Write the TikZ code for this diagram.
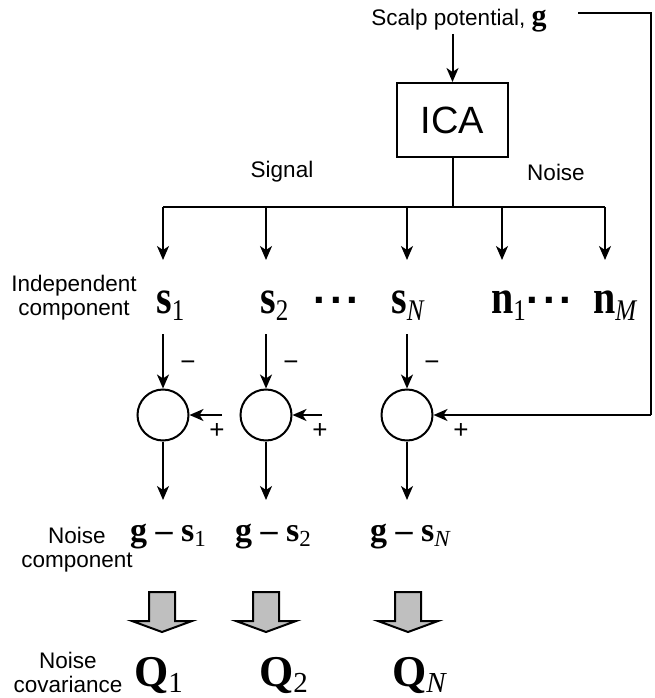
\documentclass[tikz,border=0pt]{standalone}
\usepackage{fontspec}
\usepackage{graphicx}
\setmainfont{Liberation Sans}
\newfontfamily\tms{Liberation Serif}
\usetikzlibrary{arrows.meta}
% bold vector with subscript, three sizes
\newcommand\vA[2]{\scalebox{1}[1.2]{{\tms\fontsize{40}{40}\selectfont\bfseries #1}{\tms\fontsize{25}{25}\selectfont\raisebox{-6pt}{#2}}}}
\newcommand\vB[2]{{\tms\fontsize{34}{34}\selectfont\bfseries #1}{\tms\fontsize{23}{23}\selectfont\raisebox{-5pt}{#2}}}
\newcommand\vC[2]{{\tms\fontsize{44}{44}\selectfont\bfseries #1}{\tms\fontsize{29}{29}\selectfont\raisebox{-6pt}{#2}}}
\newcommand\dotsrow{{\fontsize{42}{42}\selectfont\bfseries .\kern5pt.\kern5pt.}}
\begin{document}
\begin{tikzpicture}[x=1pt,y=-1pt,
  line/.style={line width=2pt},
  arr/.style={line width=2pt,-{Stealth[length=14pt,width=12pt,inset=4pt]}},
  lbl/.style={font=\fontsize{22.5}{24}\selectfont, inner sep=0pt, align=center},
  sgn/.style={font=\fontsize{26}{26}\selectfont, inner sep=0pt},
  mth/.style={inner sep=0pt, anchor=base west},
  sumc/.style={circle, draw, line width=2pt, minimum size=51pt, inner sep=0pt},
  box/.style={draw, line width=2pt, minimum width=111pt, minimum height=74pt, font=\fontsize{38}{38}\selectfont},
  fat/.style={draw, line width=2pt, fill=black!25, line join=miter}
]
\path[use as bounding box] (0,0) rectangle (655,698);

% top
\node[lbl, anchor=base] (scalp) at (459,26) {Scalp potential, {\tms\fontsize{30}{30}\selectfont\bfseries g}};
\node[box] (ica) at (452.5,120) {ICA};
\coordinate (topin) at (452.5,34);
\draw[arr] (topin) -- (ica.north);

\node[lbl] (signal) at (282,172) {Signal};
\node[lbl] (noise) at (556,172) {Noise};

% bus
\coordinate (bus) at (452.5,207);
\coordinate (busL) at (163,207);
\coordinate (busR) at (605,207);
\draw[line] (ica.south) -- (bus);
\draw[line] (busL) -- (busR);
\foreach \n/\x in {1/163,2/266,3/407,4/502,5/605}{
  \coordinate (b\n) at (\x,207);
  \coordinate (t\n) at (\x,260);
  \draw[arr] (b\n) -- (t\n);
}

% independent components
\node[lbl] (indep) at (74,298) {Independent\\component};
\node[mth] (s1) at (156,313) {\vA{s}{1}};
\node[mth] (s2) at (260,313) {\vA{s}{2}};
\node[inner sep=0pt] (dA) at (336,300) {\dotsrow};
\node[mth] (sN) at (391,313) {\vA{s}{\itshape N}};
\node[mth] (n1) at (491,313) {\vA{n}{1}};
\node[inner sep=0pt] (dB) at (549,300) {\dotsrow};
\node[mth] (nM) at (593,313) {\vA{n}{\itshape M}};

% summing junctions
\node[sumc] (c1) at (163,415) {};
\node[sumc] (c2) at (266,415) {};
\node[sumc] (c3) at (407,415) {};
\foreach \n/\x in {1/163,2/266,3/407}{
  \coordinate (u\n) at (\x,334);
  \draw[arr] (u\n) -- (c\n.north);
  \node[sgn] (m\n) at (\x+25,366) {−};
  \node[sgn] (p\n) at (\x+54,431) {+};
  \coordinate (d\n) at (\x,500);
  \draw[arr] (c\n.south) -- (d\n);
}
\coordinate (h1) at (222,415);
\coordinate (h2) at (322,415);
\draw[arr] (h1) -- (c1.east);
\draw[arr] (h2) -- (c2.east);

% feedback of g
\coordinate (fbA) at (578,13);
\coordinate (fbB) at (651,13);
\coordinate (fbC) at (651,415);
\draw[line] (fbA) -- (fbB) -- (fbC);
\draw[arr] (fbC) -- (c3.east);

% noise components
\node[lbl] (ncomp) at (77,550) {Noise\\component};
\node[mth] (g1) at (130,541) {{\tms\fontsize{34}{34}\selectfont\bfseries g – }\vB{s}{1}};
\node[mth] (g2) at (235,541) {{\tms\fontsize{34}{34}\selectfont\bfseries g – }\vB{s}{2}};
\node[mth] (gN) at (370,541) {{\tms\fontsize{34}{34}\selectfont\bfseries g – }\vB{s}{\itshape N}};

% fat arrows
\foreach \n/\x in {1/162,2/266,3/408}{
  \draw[fat, shift={(\x,592)}] (-13,0) -- (13,0) -- (13,29) -- (30,29) -- (0,40) -- (-30,29) -- (-13,29) -- cycle;
}

% covariance
\node[lbl] (ncov) at (68,672) {Noise\\covariance};
\node[mth] (q1) at (134,686) {\vC{Q}{1}};
\node[mth] (q2) at (259,686) {\vC{Q}{2}};
\node[mth] (qN) at (392,686) {\vC{Q}{\itshape N}};
\end{tikzpicture}
\end{document}
